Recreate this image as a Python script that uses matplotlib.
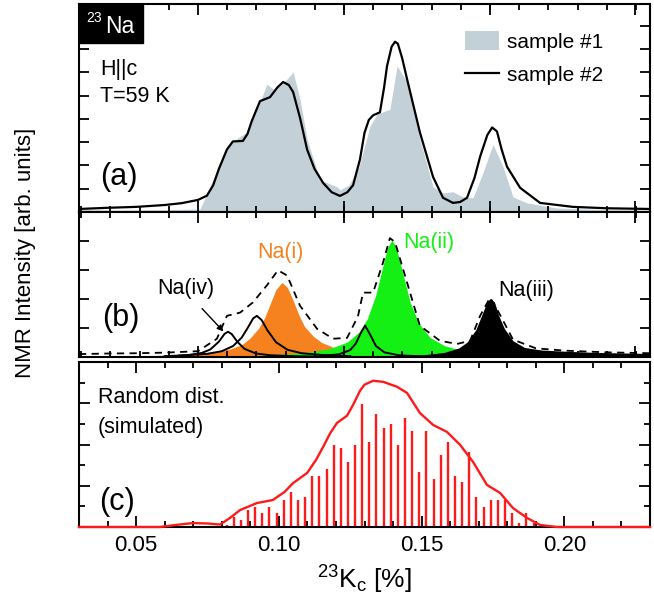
import numpy as np
import matplotlib
matplotlib.use('Agg')
import matplotlib.pyplot as plt
from matplotlib.patches import Patch, Rectangle
from matplotlib.lines import Line2D
from matplotlib.ticker import MultipleLocator, FixedLocator, StrMethodFormatter

plt.rcParams['font.family'] = 'Liberation Sans'
plt.rcParams['mathtext.fontset'] = 'custom'
plt.rcParams['mathtext.rm'] = 'Liberation Sans'

# ---------------- panel (a): measured spectra ----------------
s1_x = [0.030, 0.045, 0.060, 0.0724, 0.0759, 0.0818, 0.0864, 0.0888, 0.0934, 0.0958, 0.0980,
        0.1004, 0.1029, 0.1050, 0.1074, 0.1099, 0.1144, 0.1204, 0.1214, 0.1245, 0.1280, 0.1319,
        0.1344, 0.1389, 0.1414, 0.1449, 0.1494, 0.1540, 0.1575, 0.1610, 0.1645, 0.1680, 0.1715,
        0.1750, 0.1785, 0.1820, 0.1869, 0.1974, 0.2150, 0.2300]
s1_y = [0.10, 0.08, 0.10, 0.13, 1.08, 2.81, 3.25, 3.42, 4.72, 5.49, 5.28,
        5.41, 5.71, 6.01, 4.85, 3.12, 1.38, 1.08, 0.95, 1.15, 1.90, 3.68,
        4.20, 4.41, 6.27, 5.58, 3.12, 1.08, 0.82, 0.87, 0.65, 0.61, 1.69,
        2.90, 1.95, 0.65, 0.39, 0.17, 0.10, 0.08]

s2_x = [0.030, 0.040, 0.050, 0.060, 0.066, 0.0717, 0.0748, 0.0770, 0.0790, 0.0818, 0.0839,
        0.0874, 0.0890, 0.0905, 0.0934, 0.0969, 0.0995, 0.1015, 0.1035, 0.1050, 0.1075,
        0.1099, 0.1125, 0.1155, 0.1185, 0.1214, 0.1240, 0.1260, 0.1284, 0.1300, 0.1315,
        0.1330, 0.1354, 0.1368, 0.1379, 0.1395, 0.1407, 0.1417, 0.1432, 0.1449, 0.1494,
        0.1540, 0.1575, 0.1610, 0.1635, 0.1659, 0.1685, 0.1705, 0.1730, 0.1747, 0.1764,
        0.1780, 0.1799, 0.1845, 0.1915, 0.2030, 0.2150, 0.2300]
s2_y = [0.13, 0.18, 0.22, 0.30, 0.38, 0.52, 0.70, 1.15, 1.85, 2.68, 3.03,
        3.05, 3.35, 3.90, 4.76, 4.93, 5.35, 5.58, 5.45, 5.15, 4.00,
        2.68, 1.85, 1.25, 0.85, 0.69, 0.85, 1.15, 2.25, 3.40, 3.95,
        4.15, 4.28, 5.30, 6.27, 7.10, 7.31, 7.22, 6.60, 5.71, 3.42,
        1.51, 0.61, 0.39, 0.43, 0.61, 1.45, 2.38, 3.30, 3.63, 3.46,
        2.70, 1.95, 1.04, 0.39, 0.22, 0.16, 0.13]

# ---------------- panel (b): site decomposition ----------------
na1_x = [0.055, 0.065, 0.072, 0.078, 0.083, 0.087, 0.090, 0.093, 0.095, 0.097, 0.099, 0.1011,
         0.103, 0.105, 0.107, 0.109, 0.112, 0.115, 0.119, 0.124, 0.130, 0.140, 0.150]
na1_y = [0.05, 0.08, 0.13, 0.19, 0.28, 0.42, 0.66, 1.00, 1.35, 1.84, 2.33, 2.57,
         2.40, 1.95, 1.45, 1.05, 0.72, 0.50, 0.34, 0.22, 0.14, 0.08, 0.05]

na2_x = [0.095, 0.105, 0.112, 0.118, 0.124, 0.128, 0.131, 0.134, 0.136, 0.138, 0.1396,
         0.141, 0.143, 0.146, 0.149, 0.153, 0.158, 0.164, 0.172, 0.180]
na2_y = [0.07, 0.12, 0.19, 0.29, 0.52, 0.85, 1.32, 2.15, 2.96, 3.76, 4.03,
         3.82, 3.05, 1.88, 1.17, 0.67, 0.39, 0.23, 0.13, 0.09]

na3_x = [0.145, 0.152, 0.158, 0.163, 0.166, 0.169, 0.171, 0.173, 0.174, 0.1755, 0.177,
         0.179, 0.182, 0.186, 0.192, 0.200, 0.210, 0.220, 0.230]
na3_y = [0.05, 0.09, 0.16, 0.31, 0.52, 0.94, 1.43, 1.92, 2.01, 1.90, 1.43,
         0.98, 0.56, 0.33, 0.24, 0.20, 0.16, 0.14, 0.12]

na4_x = [0.060, 0.068, 0.073, 0.076, 0.079, 0.081, 0.0822, 0.0835, 0.0855, 0.088, 0.092,
         0.097, 0.105, 0.115]
na4_y = [0.03, 0.06, 0.14, 0.26, 0.53, 0.80, 0.87, 0.79, 0.52, 0.28, 0.12,
         0.06, 0.03, 0.01]

pk5_x = [0.065, 0.075, 0.080, 0.084, 0.087, 0.089, 0.091, 0.0923, 0.094, 0.096, 0.099,
         0.103, 0.108, 0.115, 0.125]
pk5_y = [0.05, 0.11, 0.20, 0.38, 0.67, 0.99, 1.33, 1.42, 1.27, 0.92, 0.51,
         0.25, 0.13, 0.07, 0.03]

pk6_x = [0.115, 0.121, 0.125, 0.127, 0.1285, 0.1302, 0.132, 0.134, 0.137, 0.142, 0.150]
pk6_y = [0.04, 0.09, 0.24, 0.47, 0.79, 1.08, 0.77, 0.38, 0.16, 0.06, 0.02]

tot_x = [0.030, 0.040, 0.050, 0.060, 0.0717, 0.0783, 0.0818, 0.0864, 0.0909, 0.0958, 0.0997,
         0.1029, 0.1074, 0.1134, 0.1190, 0.1239, 0.1277, 0.1295, 0.1330, 0.1365, 0.1389,
         0.1407, 0.1449, 0.1494, 0.1564, 0.1624, 0.1670, 0.1705, 0.1740, 0.1775, 0.1820,
         0.1900, 0.2000, 0.2150, 0.2300]
tot_y = [0.10, 0.12, 0.13, 0.15, 0.20, 0.63, 1.42, 1.53, 1.88, 2.47, 2.99,
         2.81, 1.77, 0.97, 0.63, 0.66, 1.40, 2.22, 2.22, 3.26, 4.10,
         3.96, 2.57, 1.08, 0.56, 0.45, 0.56, 1.42, 2.05, 1.45, 0.60,
         0.30, 0.22, 0.16, 0.13]

# ---------------- panel (c): simulated random distribution ----------------
sim_x = [0.030, 0.045, 0.0584, 0.0640, 0.0699, 0.0750, 0.0794, 0.0830, 0.0864, 0.0923, 0.0979,
         0.1020, 0.1050, 0.1099, 0.1130, 0.1155, 0.1180, 0.1204, 0.1239, 0.1260, 0.1284,
         0.1300, 0.1330, 0.1365, 0.1414, 0.1449, 0.1494, 0.1540, 0.1589, 0.1635, 0.1680,
         0.1729, 0.1775, 0.1820, 0.1869, 0.1915, 0.1974, 0.2100, 0.2300]
sim_y = [0.0, 0.0, 0.0, 0.10, 0.19, 0.17, 0.12, 0.45, 0.82, 1.16, 1.31,
         1.70, 2.13, 2.62, 3.25, 3.88, 4.55, 5.05, 5.40, 5.92, 6.60,
         6.90, 7.09, 7.04, 6.80, 6.50, 5.53, 4.95, 4.61, 3.98, 3.16,
         2.04, 1.65, 0.92, 0.44, 0.10, 0.0, 0.0, 0.0]

stem_x = [0.0817, 0.0842, 0.0867, 0.0892, 0.0917, 0.0942, 0.0967, 0.0992, 0.1017, 0.1042,
          0.1067, 0.1092, 0.1117, 0.1142, 0.1167, 0.1192, 0.1217, 0.1242, 0.1267, 0.1292,
          0.1317, 0.1342, 0.1367, 0.1392, 0.1417, 0.1442, 0.1467, 0.1492, 0.1517, 0.1542,
          0.1567, 0.1592, 0.1617, 0.1642, 0.1667, 0.1692, 0.1717, 0.1742, 0.1767, 0.1792,
          0.1817, 0.1842, 0.1867, 0.1892]
stem_h = [0.10, 0.48, 0.34, 0.82, 0.97, 0.68, 0.97, 0.68, 1.31, 1.70,
          1.31, 1.46, 2.48, 2.48, 2.82, 3.98, 3.83, 3.16, 3.98, 5.97,
          4.13, 5.49, 4.81, 5.00, 3.98, 5.29, 4.66, 2.67, 4.66, 2.33,
          3.50, 4.13, 2.48, 2.18, 3.64, 1.46, 0.97, 1.31, 1.31, 1.31,
          0.68, 0.19, 0.68, 0.19]

xticks_c = [0.05, 0.10, 0.15, 0.20]
# panels (a) and (b) were pasted with a slightly different tick grid
ab_major = [0.0717, 0.1228, 0.1739, 0.2249]
ab_minor = [0.0717 + 0.010228 * k for k in range(-4, 16)]

grey = '#c4d0d8'
orange = '#f5821f'
green = '#14f014'
red = '#ff1a1a'

W, H = 654, 601
fig = plt.figure(figsize=(W / 100, H / 100), dpi=100)


def box(l, t, r, b):
    return [l / W, 1 - b / H, (r - l) / W, (b - t) / H]


axa = fig.add_axes(box(79, 4, 650, 212))
axb = fig.add_axes(box(79, 212, 650, 357))
axc = fig.add_axes(box(79, 362, 650, 527))


def style(ax, ylim, yticks):
    ax.set_xlim(0.03, 0.23)
    ax.set_ylim(*ylim)
    for sp in ax.spines.values():
        sp.set_linewidth(1.5)
    ax.tick_params(which='both', direction='in', top=True, right=True,
                   labelleft=False, labelbottom=False, width=1.3)
    ax.tick_params(which='major', length=8)
    ax.tick_params(which='minor', length=4.5)
    ax.yaxis.set_major_locator(FixedLocator(yticks))


style(axa, (0, 8.93), range(1, 9))
style(axb, (0, 5), range(1, 5))
style(axc, (0, 8), [2, 4, 6])
axc.yaxis.set_minor_locator(FixedLocator([1, 3, 5, 7]))
axa.tick_params(axis='y', which='major', length=7)
axb.tick_params(axis='y', which='major', length=7)

for ax in (axa, axb):
    ax.xaxis.set_major_locator(FixedLocator(ab_major))
    ax.xaxis.set_minor_locator(FixedLocator(ab_minor))
axc.xaxis.set_major_locator(FixedLocator(xticks_c))
axc.xaxis.set_minor_locator(MultipleLocator(0.01))
axc.tick_params(labelbottom=True, labelsize=16, pad=6)
axc.xaxis.set_major_formatter(StrMethodFormatter('{x:.2f}'))

# panel (a)
axa.fill_between(s1_x, 0, s1_y, color=grey, lw=0)
axa.plot(s2_x, s2_y, color='black', lw=1.6)
axa.add_patch(Rectangle((0, 0.8125), 0.112, 0.1875, transform=axa.transAxes,
                        color='black', zorder=5, clip_on=False))
axa.text(0.013, 0.935, '23', transform=axa.transAxes, color='white', fontsize=10,
         va='center', ha='left', zorder=6)
axa.text(0.046, 0.893, 'Na', transform=axa.transAxes, color='white', fontsize=16.5,
         va='center', ha='left', zorder=6)
axa.text(0.037, 0.683, 'H||c', transform=axa.transAxes, fontsize=15.5, va='center')
axa.text(0.037, 0.553, 'T=59 K', transform=axa.transAxes, fontsize=15.5, va='center')
axa.text(0.037, 0.168, '(a)', transform=axa.transAxes, fontsize=22, va='center')
handles = [Patch(facecolor=grey, edgecolor='none'), Line2D([], [], color='black', lw=1.6)]
axa.legend(handles, ['sample #1', 'sample #2'], loc='upper left',
           bbox_to_anchor=(0.676, 0.868), frameon=False, fontsize=15,
           handlelength=1.65, handleheight=1.0, handletextpad=0.35, labelspacing=0.62,
           borderpad=0, borderaxespad=0)

# panel (b)
axb.fill_between(na1_x, 0, na1_y, color=orange, lw=0)
axb.fill_between(na2_x, 0, na2_y, color=green, lw=0)
axb.fill_between(na3_x, 0, na3_y, color='black', lw=0)
axb.plot(na4_x, na4_y, color='black', lw=1.4)
axb.plot(pk5_x, pk5_y, color='black', lw=1.4)
axb.plot(pk6_x, pk6_y, color='black', lw=1.4)
axb.plot(tot_x, tot_y, color='black', lw=1.3, ls=(0, (4, 3)))
axb.text(0.312, 0.722, 'Na(i)', transform=axb.transAxes, fontsize=15.5, color=orange,
         va='center')
axb.text(0.567, 0.792, 'Na(ii)', transform=axb.transAxes, fontsize=15.5, color=green,
         va='center')
axb.text(0.734, 0.458, 'Na(iii)', transform=axb.transAxes, fontsize=15.5, va='center')
axb.text(0.137, 0.472, 'Na(iv)', transform=axb.transAxes, fontsize=15.5, va='center')
axb.annotate('', xy=(0.0806, 0.88), xytext=(0.0731, 1.67),
             arrowprops=dict(arrowstyle='-|>', color='black', lw=1.0,
                             mutation_scale=9, shrinkA=0, shrinkB=0))
axb.text(0.040, 0.271, '(b)', transform=axb.transAxes, fontsize=22, va='center')

# panel (c)
axc.vlines(stem_x, 0, stem_h, color=red, lw=1.7)
axc.plot(sim_x, sim_y, color=red, lw=1.7, clip_on=False, zorder=4)
axc.text(0.033, 0.783, 'Random dist.', transform=axc.transAxes, fontsize=15.5, va='center')
axc.text(0.033, 0.602, '(simulated)', transform=axc.transAxes, fontsize=15.5, va='center')
axc.text(0.035, 0.150, '(c)', transform=axc.transAxes, fontsize=22, va='center')

fig.text(26 / W, 1 - 253 / H, 'NMR Intensity [arb. units]', rotation=90,
         fontsize=16, ha='center', va='center')
fig.text(364 / W, 1 - 580 / H, r'$\mathregular{^{23}K_c}$ [%]', fontsize=19,
         ha='center', va='center')

fig.savefig('out.png', dpi=100)
